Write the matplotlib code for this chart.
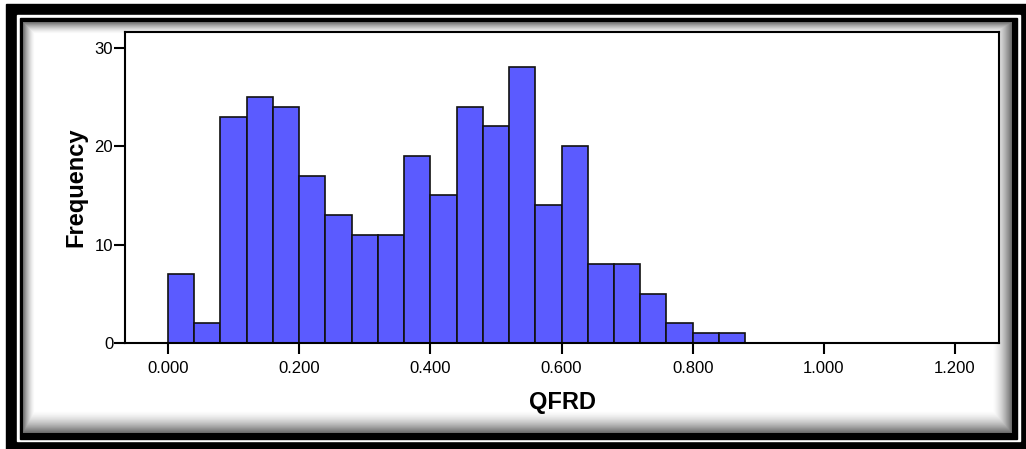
import numpy as np
import matplotlib
matplotlib.use("Agg")
import matplotlib.pyplot as plt
from matplotlib.patches import Rectangle

plt.rcParams['font.family'] = ['Liberation Sans', 'DejaVu Sans']

# histogram of QFRD, bins of width 0.04 starting at 0
bin_width = 0.04
counts = [7, 2, 23, 25, 24, 17, 13, 11, 11, 19, 15, 24, 22, 28, 14, 20, 8, 8, 5, 2, 1, 1]
x_ticks = [0.0, 0.2, 0.4, 0.6, 0.8, 1.0, 1.2]
y_ticks = [0, 10, 20, 30]

W, H = 1026, 449
fig = plt.figure(figsize=(W / 100, H / 100), dpi=100)

# decorative frame drawn in pixel coordinates
bg = fig.add_axes([0, 0, 1, 1], zorder=0)
bg.axis('off')
bg.add_patch(Rectangle((6, 4), W - 6, H - 4, color='black', zorder=1))
bg.add_patch(Rectangle((17, 15), 1020 - 17, 441 - 15, color='white', zorder=1))
bg.add_patch(Rectangle((20, 18), 1017 - 20, 439 - 18, color='black', zorder=1))

# soft inner shadow
x0, x1, y0, y1 = 23, 1012, 22, 433
xx = np.arange(x0, x1) + 0.5
yy = np.arange(y0, y1) + 0.5
dx = np.minimum((xx - x0) * 1.3, (x1 - xx) * 0.8)
dy = np.minimum((yy - y0) * 1.3, (y1 - yy) * 0.7)
d = np.minimum(dx[None, :], dy[:, None])
shade = 1 - 0.6 * np.clip(1 - d / 16, 0, 1) ** 1.6
bg.imshow(shade, cmap='gray', vmin=0, vmax=1, extent=(x0, x1, y1, y0),
          interpolation='bilinear', aspect='auto', zorder=2)
bg.set_xlim(0, W)
bg.set_ylim(H, 0)

# main histogram axes
ax = fig.add_axes([125 / W, 1 - 343 / H, (999 - 125) / W, (343 - 32) / H], zorder=1)
ax.set_facecolor('white')
edges = np.arange(len(counts) + 1) * bin_width
ax.bar(edges[:-1], counts, width=bin_width, align='edge',
       color='#5b5bff', edgecolor='#111111', linewidth=1.2)

ax.set_xlim(-0.0656, 1.267)
ax.set_ylim(0, 31.6)
ax.set_xticks(x_ticks)
ax.set_xticklabels([f"{v:.3f}" for v in x_ticks])
ax.set_yticks(y_ticks)
ax.tick_params(axis='both', labelsize=12, length=8, width=1.5, color='black')
ax.tick_params(axis='y', pad=0.5)
ax.tick_params(axis='x', pad=5)
for s in ax.spines.values():
    s.set_linewidth(1.5)

ax.set_xlabel('QFRD', fontsize=17, fontweight='bold', labelpad=11)
ax.set_ylabel('Frequency', fontsize=17, fontweight='bold', labelpad=5)

fig.savefig('out.png', dpi=100)
